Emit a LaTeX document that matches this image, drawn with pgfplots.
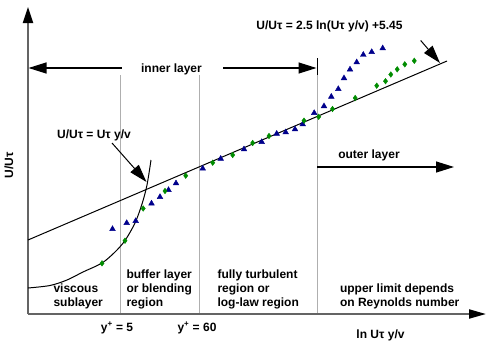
\documentclass[border=0pt]{standalone}
\usepackage{pgfplots}
\pgfplotsset{compat=1.18}
\usepackage{fontspec}
\setmainfont{Liberation Sans}
\usetikzlibrary{arrows.meta}
\definecolor{tri}{RGB}{0,0,140}
\definecolor{dia}{RGB}{0,140,0}
\definecolor{axgray}{RGB}{100,100,100}
\definecolor{lngray}{RGB}{175,175,175}
\begin{document}
\begin{tikzpicture}[font=\bfseries\fontsize{12}{14}\selectfont]
\begin{axis}[scale only axis, width=495pt, height=351pt,
  xmin=0, xmax=495, ymin=0, ymax=351, y dir=reverse,
  hide axis, clip=false]
% region separators
\draw[lngray, line width=0.8pt] (120,75) -- (120,314);
\draw[lngray, line width=0.8pt] (199.5,75) -- (199.5,314);
\draw[lngray, line width=0.8pt] (317,75) -- (317,314);
\draw[black, line width=0.9pt] (317,58) -- (317,75);
% axes
\draw[axgray, line width=2pt, -{Triangle[length=16pt,width=10pt,color=black]}] (28,314) -- (28,7);
\draw[axgray, line width=2pt, -{Triangle[length=17pt,width=9pt,color=black]}] (28,314) -- (486,314);
% inner / outer layer arrows
\draw[black, line width=1.2pt, {Triangle[length=18pt,width=11pt]}-] (28.5,68) -- (122,68);
\draw[black, line width=1.2pt, -{Triangle[length=18pt,width=11pt]}] (223,68) -- (316.5,68);
\draw[black, line width=1.2pt, -{Triangle[length=18pt,width=11pt]}] (317,167) -- (454,167);
% laws
\addplot[black, line width=1pt] coordinates {(28,240) (447,61)};
\addplot[black, line width=1pt, smooth] coordinates {
 (28,288) (50,285.5) (67,280) (83,272) (102,263) (115,252) (125,240.5)
 (135,223) (142,204) (147,185) (151,160)};
% annotation arrows
\draw[black, line width=1pt, -{Triangle[length=18pt,width=11pt]}] (112,143) -- (146.5,182);
\draw[black, line width=1pt, -{Triangle[length=18pt,width=11pt]}] (420.7,40.5) -- (440,63);
% data
\addplot[only marks, mark=triangle*, mark size=3.3pt, color=tri] coordinates {
 (112.5,229) (126.7,223) (135.7,221) (151.5,203.5) (160,197) (168.5,190)
 (176,183.3) (202.7,168.5) (220.7,158.7) (244,149.3) (261.7,142) (276.7,133.7)
 (285.7,132.3) (295,129.3) (302.7,124.3) (314.2,113) (324,106.2) (331.3,96.7)
 (338.3,89) (344,78.2) (350,69.5) (356.7,62.3) (363.3,54.8) (371.7,52) (382.7,48.3)};
\addplot[only marks, mark=diamond*, mark size=2.8pt, color=dia] coordinates {
 (102,263.3) (125,240.7) (143.2,208.5) (165,191) (185.7,175.7) (212.7,162.7)
 (232.7,155) (252.7,143) (269,136) (304,120.7) (318.7,116.8) (332.5,109)
 (355.2,98) (376.7,85.7) (385.5,81.2) (390.8,74.5) (397.2,69.3) (404.8,64.3) (414.3,60.8)};
% texts
\node at (329.5,26) {U/Uτ = 2.5 ln(Uτ y/v) +5.45};
\node at (171.5,69) {inner layer};
\node at (94,135) {U/Uτ = Uτ y/v};
\node at (369,155) {outer layer};
\node[rotate=90] at (9,165) {U/Uτ};
\node[anchor=west, align=left] at (50,296.5) {viscous\\sublayer};
\node[anchor=west, align=left] at (123,289) {buffer layer\\or blending\\region};
\node[anchor=west, align=left] at (214,289) {fully turbulent\\region or\\log-law region};
\node[anchor=west, align=left] at (336.5,296.5) {upper limit depends\\on Reynolds number};
\node at (117,328) {y\textsuperscript{+} = 5};
\node at (197,328) {y\textsuperscript{+} = 60};
\node at (380.5,335.5) {ln Uτ y/v};
\end{axis}
\pgfresetboundingbox
\useasboundingbox (current axis.south west) rectangle (current axis.north east);
\end{tikzpicture}
\end{document}
